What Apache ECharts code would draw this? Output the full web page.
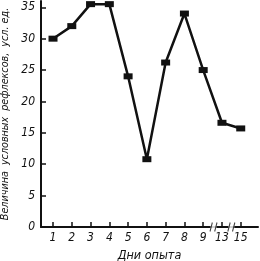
<!DOCTYPE html>
<html>
<head>
<meta charset="utf-8">
<script src="https://cdn.jsdelivr.net/npm/echarts@6/dist/echarts.min.js"></script>
<style>
  html, body { margin: 0; padding: 0; background: #fff; }
  #chart { width: 260px; height: 261px; }
</style>
</head>
<body>
<div id="chart"></div>
<script>
  // дни опыта (после 9-го идёт разрыв шкалы)
  var days = ['1', '2', '3', '4', '5', '6', '7', '8', '9', '13', '15']
  // величина условных рефлексов
  var reflexValues = [30, 32, 35.5, 35.5, 24, 10.8, 26.2, 34, 25, 16.6, 15.7]
  var yTicks = [0, 5, 10, 15, 20, 25, 30, 35]
  // места разрывов оси
  var breaks = [9.55, 10.5]

  var font = '"DejaVu Sans Condensed", "Liberation Sans", sans-serif'
  var idx = days.map(function (d, i) { return i + 1 })
  var points = reflexValues.map(function (v, i) { return [i + 1, v] })

  var chart = echarts.init(document.getElementById('chart'))
  chart.setOption({
    animation: false,
    grid: { left: 41, right: 2, top: 1, bottom: 34, outerBoundsMode: 'none', containLabel: false },
    xAxis: {
      type: 'value',
      min: 0.36,
      max: 11.92,
      name: 'Дни опыта',
      nameLocation: 'middle',
      nameGap: 19,
      nameTextStyle: { fontFamily: font, fontStyle: 'italic', fontSize: 12.5, color: '#111' },
      axisLine: { lineStyle: { color: '#111', width: 2 } },
      axisTick: { show: true, inside: true, length: 5, lineStyle: { color: '#111', width: 1.5 }, customValues: idx },
      axisLabel: {
        customValues: idx,
        formatter: function (v) { return days[Math.round(v) - 1] },
        fontFamily: font, fontStyle: 'italic', fontSize: 12, color: '#111', margin: 5
      },
      splitLine: { show: false }
    },
    yAxis: {
      type: 'value',
      min: 0,
      max: 36,
      name: 'Величина  условных  рефлексов,  усл. ед.',
      nameLocation: 'middle',
      nameGap: 26,
      nameTextStyle: { fontFamily: font, fontStyle: 'italic', fontSize: 10.7, color: '#111' },
      axisLine: { show: true, lineStyle: { color: '#111', width: 2 } },
      axisTick: { show: true, inside: true, length: 5, lineStyle: { color: '#111', width: 1.5 }, customValues: yTicks },
      axisLabel: { customValues: yTicks, fontFamily: font, fontStyle: 'italic', fontSize: 12, color: '#111', margin: 6 },
      splitLine: { show: false }
    },
    series: [
      {
        type: 'line',
        data: points,
        lineStyle: { color: '#111', width: 2.5 },
        itemStyle: { color: '#111' },
        symbol: 'rect',
        symbolSize: [9, 6],
        showAllSymbol: true
      },
      {
        type: 'scatter',
        data: breaks.map(function (b) { return [b, 0] }),
        symbol: 'path://M0,0 L10,0 L10,10 L0,10 Z',
        symbolSize: [6, 3],
        itemStyle: { color: '#fff' },
        z: 5
      },
      {
        type: 'scatter',
        data: breaks.map(function (b) { return [b, 0] }),
        symbol: 'path://M2,10 L4,0 M6,10 L8,0',
        symbolSize: [7, 9],
        itemStyle: { color: 'none', borderColor: '#111', borderWidth: 1.2 },
        z: 6
      }
    ]
  })
</script>
</body>
</html>
